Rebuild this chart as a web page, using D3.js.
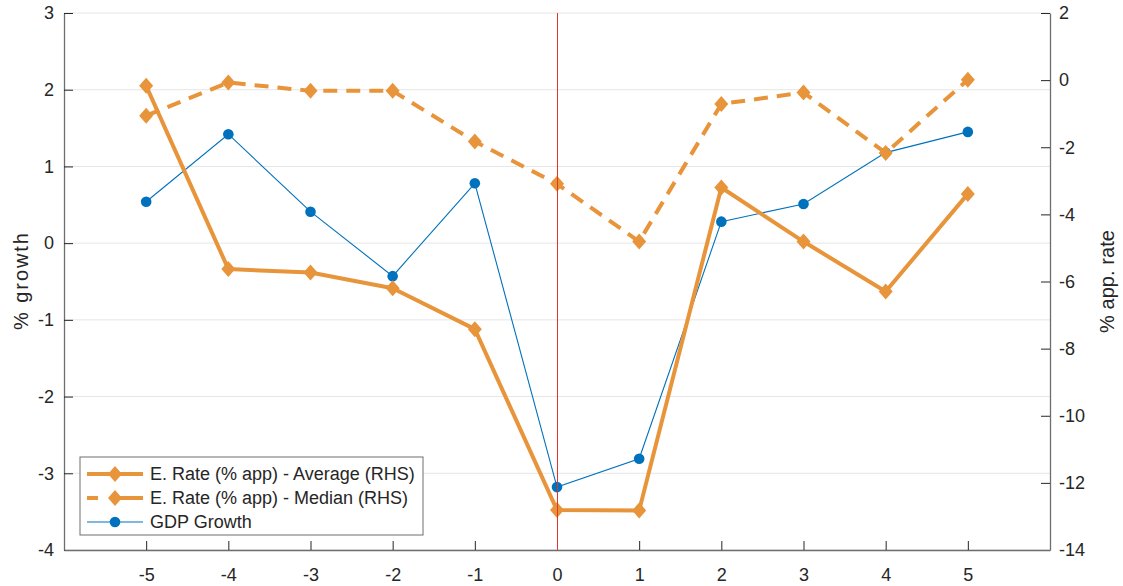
<!DOCTYPE html>
<html>
<head>
<meta charset="utf-8">
<script src="https://cdn.jsdelivr.net/npm/d3@7"></script>
<style>
  body { margin: 0; background: #fff; }
  text { font-family: "Liberation Sans", Arial, sans-serif; fill: #262626; }
</style>
</head>
<body>
<svg id="chart" width="1123" height="586"></svg>
<script>
var periods = [-5, -4, -3, -2, -1, 0, 1, 2, 3, 4, 5];
var rateAverage = [-0.17, -5.63, -5.73, -6.20, -7.42, -12.81, -12.82, -3.20, -4.81, -6.30, -3.39];
var rateMedian = [-1.06, -0.07, -0.32, -0.32, -1.83, -3.09, -4.81, -0.71, -0.37, -2.17, 0.01];
var gdpGrowth = [0.54, 1.42, 0.41, -0.43, 0.78, -3.18, -2.81, 0.28, 0.51, 1.18, 1.45];
var leftTicks = [-4, -3, -2, -1, 0, 1, 2, 3];
var rightTicks = [-14, -12, -10, -8, -6, -4, -2, 0, 2];
var seriesNames = ["E. Rate (% app) - Average (RHS)", "E. Rate (% app) - Median (RHS)", "GDP Growth"];

var orange = "#e8943a", blue = "#0072bd";

var svg = d3.select("#chart"),
  margin = {top: 13, right: 73, bottom: 36, left: 64},
  width = 1123 - margin.left - margin.right,
  height = 586 - margin.top - margin.bottom;

var g = svg.append("g").attr("transform", "translate(" + margin.left + "," + margin.top + ")");

var x = d3.scaleLinear().domain([-6, 6]).range([0, width]);
var yL = d3.scaleLinear().domain([-4, 3]).range([height, 0]);
var yR = d3.scaleLinear().domain([-14, 2]).range([height, 0]);

var fmt = function(d) { return String(d); };

// gridlines from the left axis
g.append("g").selectAll("line").data(leftTicks).join("line")
  .attr("x1", 0).attr("x2", width)
  .attr("y1", function(d) { return yL(d); }).attr("y2", function(d) { return yL(d); })
  .attr("stroke", "#e6e6e6").attr("stroke-width", 1);

function styleAxis(sel) {
  sel.selectAll("path").attr("stroke", "#6e6e6e").attr("stroke-width", 1.3);
  sel.selectAll("line").attr("stroke", "#262626");
  sel.selectAll("text").style("font-size", "18px").attr("fill", "#262626");
}

g.append("g")
  .call(d3.axisLeft(yL).tickValues(leftTicks).tickSizeInner(-9).tickSizeOuter(0).tickPadding(10).tickFormat(fmt))
  .call(styleAxis);

g.append("g")
  .attr("transform", "translate(" + width + ",0)")
  .call(d3.axisRight(yR).tickValues(rightTicks).tickSizeInner(-9).tickSizeOuter(0).tickPadding(9).tickFormat(fmt))
  .call(styleAxis);

g.append("g")
  .attr("transform", "translate(0," + height + ")")
  .call(d3.axisBottom(x).tickValues(periods).tickSizeInner(-9).tickSizeOuter(0).tickPadding(18).tickFormat(fmt))
  .call(styleAxis);

// axis titles
svg.append("text")
  .attr("transform", "translate(28," + (margin.top + height / 2) + ") rotate(-90)")
  .attr("text-anchor", "middle")
  .style("font-size", "20px")
  .attr("textLength", 97).attr("lengthAdjust", "spacing")
  .text("% growth");

svg.append("text")
  .attr("transform", "translate(1114," + (margin.top + height / 2) + ") rotate(-90)")
  .attr("text-anchor", "middle")
  .style("font-size", "20px")
  .attr("textLength", 103).attr("lengthAdjust", "spacing")
  .text("% app. rate");

// GDP growth (left axis)
var lineL = d3.line().x(function(d, i) { return x(periods[i]); }).y(function(d) { return yL(d); });
var lineR = d3.line().x(function(d, i) { return x(periods[i]); }).y(function(d) { return yR(d); });

g.append("path").datum(gdpGrowth)
  .attr("fill", "none").attr("stroke", blue).attr("stroke-width", 1.1)
  .attr("d", lineL);
g.append("g").selectAll("circle").data(gdpGrowth).join("circle")
  .attr("cx", function(d, i) { return x(periods[i]); })
  .attr("cy", function(d) { return yL(d); })
  .attr("r", 5.3).attr("fill", blue);

var diamond = "M0,-8L7,0L0,8L-7,0Z";

function drawRate(values, dashed) {
  g.append("path").datum(values)
    .attr("fill", "none").attr("stroke", orange).attr("stroke-width", 4)
    .attr("stroke-dasharray", dashed ? "14,9" : null)
    .attr("stroke-linejoin", "round")
    .attr("d", lineR);
  g.append("g").selectAll("path").data(values).join("path")
    .attr("transform", function(d, i) { return "translate(" + x(periods[i]) + "," + yR(d) + ")"; })
    .attr("d", diamond).attr("fill", orange);
}
drawRate(rateMedian, true);
drawRate(rateAverage, false);

// vertical line at period 0
g.append("line")
  .attr("x1", x(0) + 0.5).attr("x2", x(0) + 0.5).attr("y1", 0).attr("y2", height)
  .attr("stroke", "#e3342c").attr("stroke-width", 1)
  .attr("shape-rendering", "crispEdges");

// legend
var legend = svg.append("g").attr("transform", "translate(80,457)");
legend.append("rect")
  .attr("width", 343).attr("height", 78)
  .attr("fill", "#fff").attr("stroke", "#6e6e6e").attr("stroke-width", 1);

var rows = legend.selectAll("g.row").data(seriesNames).join("g")
  .attr("class", "row")
  .attr("transform", function(d, i) { return "translate(0," + (17 + i * 24) + ")"; });

rows.each(function(d, i) {
  var r = d3.select(this);
  if (i < 2) {
    r.append("line").attr("x1", 7).attr("x2", 63).attr("y1", 0).attr("y2", 0)
      .attr("stroke", orange).attr("stroke-width", 4)
      .attr("stroke-dasharray", i === 1 ? "11,15,30" : null);
    r.append("path").attr("transform", "translate(35,0)").attr("d", diamond).attr("fill", orange);
  } else {
    r.append("line").attr("x1", 7).attr("x2", 63).attr("y1", 0).attr("y2", 0)
      .attr("stroke", blue).attr("stroke-width", 1.1);
    r.append("circle").attr("cx", 35).attr("cy", 0).attr("r", 5.3).attr("fill", blue);
  }
  r.append("text").attr("x", 70).attr("dy", "0.35em").style("font-size", "18px").text(d);
});
</script>
</body>
</html>
